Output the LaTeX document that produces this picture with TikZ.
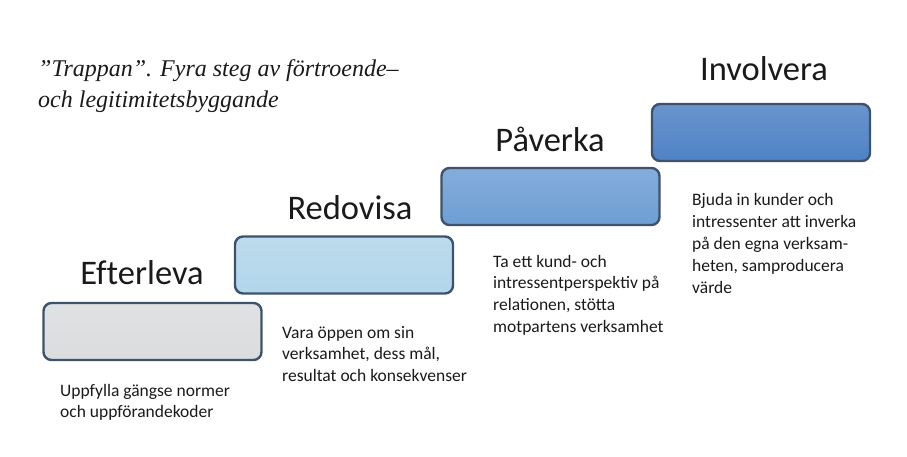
\documentclass[tikz,border=0pt]{standalone}
\usepackage{fontspec}
\setmainfont{Carlito}
\newfontfamily\titlefont{Liberation Serif}
\usepackage{tikz}
\usetikzlibrary{positioning}
\definecolor{stepedge}{HTML}{3E536B}
\definecolor{stepgrey}{HTML}{DADCDE}
\definecolor{steplight}{HTML}{B1D6EA}
\definecolor{stepmid}{HTML}{6E9ED4}
\definecolor{stepdark}{HTML}{4F82C5}
\definecolor{inktext}{HTML}{1A1A1A}
\newcommand{\lines}[1]{\begin{tabular}[t]{@{}l@{}}#1\end{tabular}}
\tikzset{
  stepbox/.style={draw=stepedge, line width=2.4pt, rounded corners=8pt, minimum width=218pt, minimum height=57pt, inner sep=0pt},
  steplabel/.style={font=\addfontfeature{Ligatures=NoCommon}\fontsize{34.5}{38}\selectfont, text=inktext, anchor=base, inner sep=0pt},
  stepnote/.style={font=\fontsize{17.5}{21.8}\selectfont, text=inktext, anchor=base west, inner sep=0pt},
  heading/.style={font=\titlefont\itshape\fontsize{24}{31}\selectfont, text=inktext, anchor=base west, inner sep=0pt}
}

\begin{document}
\begin{tikzpicture}[x=1pt, y=-1pt]
  \useasboundingbox (0,0) rectangle (907,457);
  \node[heading] (title) at (38,77) {\lines{”Trappan”. Fyra steg av förtroende–\\och legitimitetsbyggande}};
  % the four steps
  \foreach \n/\c/\x/\y in {box1/stepgrey/152.5/331.5, box2/steplight/344/265, box3/stepmid/550.5/196.5, box4/stepdark/761/132.5}
    \node[stepbox, top color=\c!85!white, bottom color=\c] (\n) at (\x,\y) {};
  \node[steplabel] (lab1) at (142,284) {Efterleva};
  \node[steplabel] (lab2) at (350,219) {Redovisa};
  \node[steplabel] (lab3) at (550,152) {Påverka};
  \node[steplabel] (lab4) at (764,81) {Involvera};
  \node[stepnote] (note1) at (60,396) {\lines{Uppfylla gängse normer\\och uppförandekoder}};
  \node[stepnote] (note2) at (282,338) {\lines{Vara öppen om sin\\verksamhet, dess mål,\\resultat och konsekvenser}};
  \node[stepnote] (note3) at (493,267) {\lines{Ta ett kund- och\\intressentperspektiv på\\relationen, stötta\\motpartens verksamhet}};
  \node[stepnote] (note4) at (692,206) {\lines{Bjuda in kunder och\\intressenter att inverka\\på den egna verksam-\\heten, samproducera\\värde}};
\end{tikzpicture}
\end{document}
